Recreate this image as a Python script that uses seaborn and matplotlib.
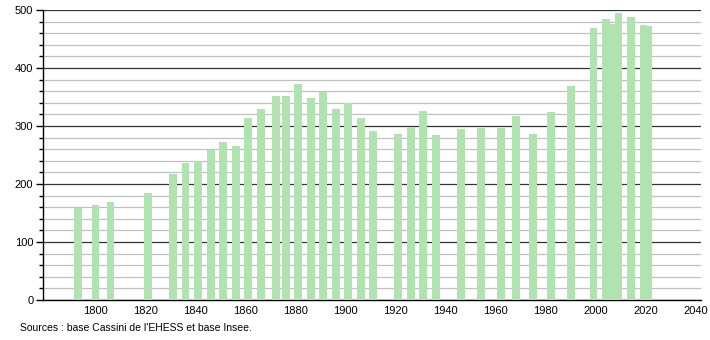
import matplotlib
matplotlib.use("Agg")
import matplotlib.pyplot as plt
import seaborn as sns
import pandas as pd
from matplotlib.ticker import MultipleLocator

years = [1793, 1800, 1806, 1821, 1831, 1836, 1841, 1846, 1851, 1856, 1861, 1866,
         1872, 1876, 1881, 1886, 1891, 1896, 1901, 1906, 1911, 1921, 1926, 1931,
         1936, 1946, 1954, 1962, 1968, 1975, 1982, 1990, 1999, 2004, 2006, 2009,
         2014, 2019, 2021]
population = [158, 164, 169, 185, 218, 237, 239, 259, 272, 266, 314, 329,
              352, 352, 372, 348, 358, 329, 339, 314, 291, 287, 298, 326,
              284, 295, 297, 297, 318, 287, 324, 369, 469, 484, 476, 495,
              488, 474, 472]
x_ticks = list(range(1800, 2041, 20))
source_text = "Sources : base Cassini de l'EHESS et base Insee."

plt.rcParams['font.family'] = ['Liberation Sans', 'DejaVu Sans']

df = pd.DataFrame({"year": years, "pop": population})

fig = plt.figure(figsize=(7.1, 3.4), dpi=100)
ax = fig.add_axes([43 / 710, 1 - 300 / 340, (701 - 43) / 710, 290 / 340])

sns.barplot(data=df, x="year", y="pop", native_scale=True, width=1.55,
            color="#b0e3b0", saturation=1, errorbar=None, linewidth=0, ax=ax,
            zorder=3)

ax.set_xlim(1779, 2042)
ax.set_ylim(0, 500)
ax.set_xticks(x_ticks)
ax.set_xticklabels([str(t) for t in x_ticks])
ax.yaxis.set_major_locator(MultipleLocator(100))
ax.yaxis.set_minor_locator(MultipleLocator(20))

ax.grid(which="major", axis="y", color="#333333", linewidth=0.9, zorder=1)
ax.grid(which="minor", axis="y", color="#c0c0c0", linewidth=0.9, zorder=1)
ax.set_axisbelow(True)

for s in ["top", "right"]:
    ax.spines[s].set_visible(False)
ax.spines["left"].set_color("black")
ax.spines["bottom"].set_color("black")
ax.spines["left"].set_linewidth(1)
ax.spines["bottom"].set_linewidth(1)

ax.tick_params(axis="x", length=0, pad=4, labelsize=8, colors="black")
ax.tick_params(axis="y", which="major", length=5, width=1, labelsize=8, pad=2)
ax.tick_params(axis="y", which="minor", length=3, width=1)
ax.set_xlabel("")
ax.set_ylabel("")

fig.text(20 / 710, 1 - 328 / 340, source_text, fontsize=7.5, va="center", ha="left")

fig.savefig("out.png", dpi=100)
